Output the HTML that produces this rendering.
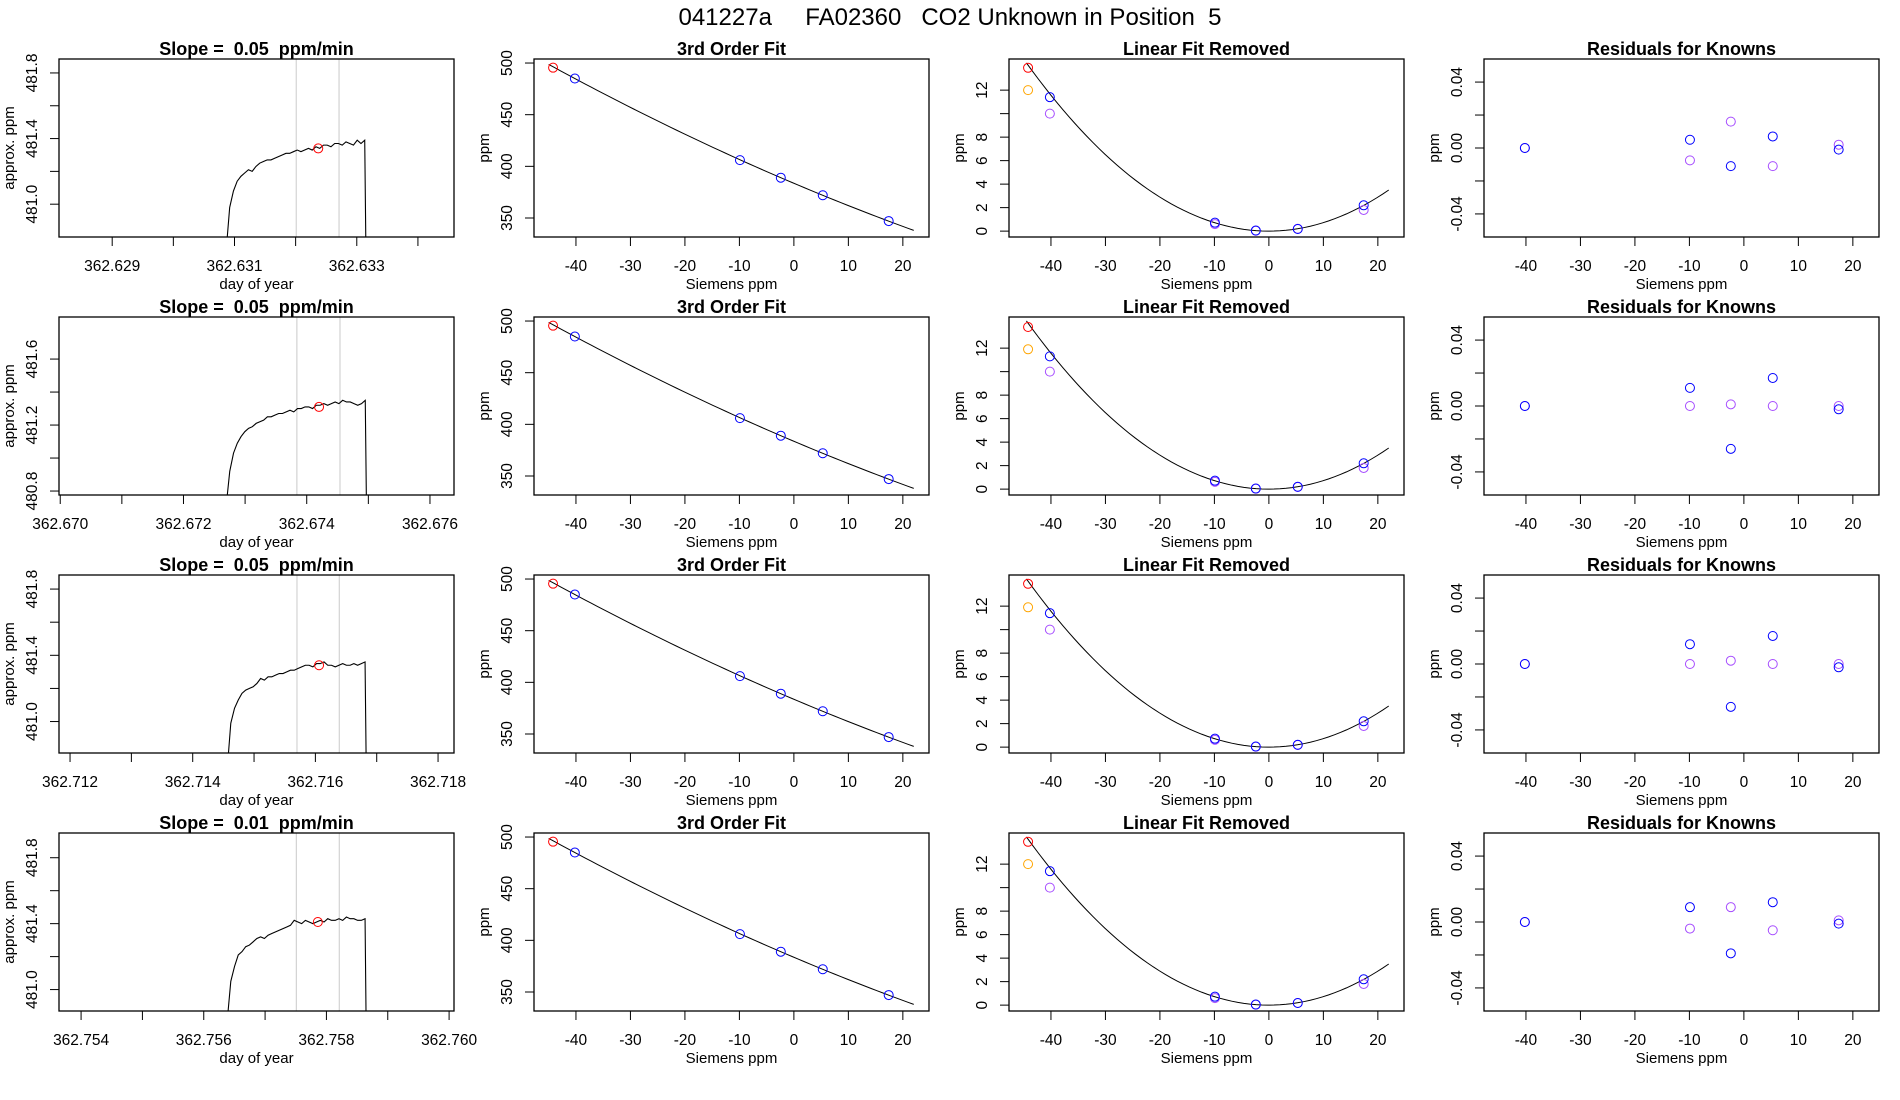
<!DOCTYPE html>
<html><head><meta charset="utf-8"><title>CO2 Unknown in Position 5</title>
<style>
html,body{margin:0;padding:0;background:#fff;}
svg{display:block;font-family:"Liberation Sans",sans-serif;}
text{white-space:pre;}
</style></head>
<body>
<svg id="chart" width="1900" height="1100" viewBox="0 0 1900 1100" xmlns="http://www.w3.org/2000/svg">
<rect x="0" y="0" width="1900" height="1100" fill="#fff"/>
<text x="950" y="25" font-size="24" text-anchor="middle" xml:space="preserve">041227a     FA02360   CO2 Unknown in Position  5</text>
</svg>
<script>
// ---- data ----
const slopeLabels = ["0.05", "0.05", "0.05", "0.01"];
const timeMin = [362.62813, 362.66998, 362.71182, 362.75364];
const timeMax = [362.63459, 362.67639, 362.71826, 362.76008];
const labelParity = [1, 0, 0, 0];
const traceStart = [362.63086, 362.67269, 362.71456, 362.75638];
const traceEnd = [362.63313, 362.67495, 362.71681, 362.75863];
const markTime = [362.63237, 362.67420, 362.71606, 362.75786];
const greyLine1 = [362.63201, 362.67384, 362.71570, 362.75751];
const greyLine2 = [362.63271, 362.67454, 362.71639, 362.75821];
const ppmMin = [480.80, 480.776, 480.81, 480.87];
const ppmMax = [481.885, 481.855, 481.885, 481.95];
const ppmTicks = [[481.0,481.2,481.4,481.6,481.8],[480.8,481.0,481.2,481.4,481.6],[481.0,481.2,481.4,481.6,481.8],[481.0,481.2,481.4,481.6,481.8]];
const ppmTickLabels = [["481.0","","481.4","","481.8"],["480.8","","481.2","","481.6"],["481.0","","481.4","","481.8"],["481.0","","481.4","","481.8"]];
const traceRow1 = [480.70,480.98,481.08,481.14,481.17,481.19,481.21,481.20,481.23,481.25,481.26,481.27,481.27,481.28,481.29,481.30,481.31,481.31,481.32,481.33,481.32,481.33,481.34,481.33,481.35,481.34,481.36,481.36,481.35,481.37,481.37,481.36,481.38,481.37,481.36,481.39,481.37,481.39,480.60];
const traceRow2 = [480.70,480.92,481.03,481.09,481.13,481.16,481.18,481.19,481.21,481.22,481.23,481.25,481.25,481.26,481.27,481.27,481.28,481.29,481.28,481.30,481.30,481.31,481.31,481.30,481.32,481.32,481.33,481.32,481.33,481.34,481.33,481.35,481.34,481.34,481.33,481.32,481.33,481.35,480.60];
const traceRow3 = [480.70,480.99,481.08,481.13,481.17,481.19,481.20,481.21,481.23,481.26,481.25,481.27,481.27,481.28,481.29,481.29,481.30,481.31,481.31,481.32,481.33,481.34,481.34,481.33,481.35,481.35,481.36,481.34,481.34,481.33,481.34,481.35,481.34,481.34,481.35,481.34,481.35,481.36,480.60];
const traceRow4 = [480.80,481.05,481.14,481.21,481.23,481.26,481.27,481.29,481.31,481.32,481.31,481.33,481.34,481.35,481.36,481.37,481.38,481.39,481.42,481.41,481.40,481.42,481.41,481.40,481.41,481.42,481.41,481.43,481.42,481.42,481.43,481.42,481.44,481.43,481.43,481.42,481.42,481.43,480.60];
const traces = [traceRow1, traceRow2, traceRow3, traceRow4];
const markPpm = [481.34, 481.31, 481.34, 481.41];

const siemensKnown = [-40.2, -9.9, -2.4, 5.3, 17.4];
const siemensUnknown = -44.2;
const ppmKnown = [485, 406, 389, 372, 347];
const ppmUnknown = 495.5;
const fitCoef = [383.6, -2.232, 0.00723];
const fitRange = [-45, 22];
const sieTicks = [-40, -30, -20, -10, 0, 10, 20];
const fitTicks = [350, 400, 450, 500];

const residBlueRows = [[11.4,0.72,0.05,0.18,2.2],[11.3,0.72,0.05,0.20,2.2],[11.4,0.72,0.05,0.20,2.2],[11.4,0.72,0.05,0.18,2.2]];
const residPurpleRows = [[10.0,0.60,0.03,0.20,1.8],[10.0,0.62,0.04,0.18,1.8],[10.0,0.62,0.04,0.18,1.8],[10.0,0.60,0.04,0.18,1.8]];
const linRedRow = [13.9, 13.8, 13.9, 13.9];
const linOrangeRow = [12.0, 11.9, 11.9, 12.0];
const linTicks = [0, 2, 4, 6, 8, 10, 12];
const linTickLabels = ["0","2","4","6","8","","12"];

const knownBlueRows = [[0.0,0.005,-0.011,0.007,-0.001],[0.0,0.011,-0.026,0.017,-0.002],[0.0,0.012,-0.026,0.017,-0.002],[0.0,0.009,-0.019,0.012,-0.001]];
const knownPurpleRows = [[0.0,-0.0075,0.016,-0.011,0.002],[0.0,0.0,0.001,0.0,0.0],[0.0,0.0,0.002,0.0,0.0],[0.0,-0.004,0.009,-0.005,0.001]];
const resTicks = [-0.04, -0.02, 0.0, 0.02, 0.04];
const resTickLabels = ["-0.04","","0.00","","0.04"];

// ---- layout ----
const NS = "http://www.w3.org/2000/svg";
const svg = document.getElementById("chart");
const rowTop = [59, 317, 575, 833];
const panelLeft = [59, 534, 1009, 1484];
const PW = 395, PH = 178;
const SIE_MIN = -47.7, SIE_MAX = 24.8;
const RED = "#ff0000", BLUE = "#0000ff", PURPLE = "#a64dff", ORANGE = "#ffa500";
let clipId = 0;

function el(tag, attrs, parent) {
  const e = document.createElementNS(NS, tag);
  for (const k in attrs) e.setAttribute(k, attrs[k]);
  (parent || svg).appendChild(e);
  return e;
}
function scale(d0, d1, r0, r1) { return v => r0 + (v - d0) / (d1 - d0) * (r1 - r0); }

function frame(g, x0, y0, title, xlab, ylab) {
  const t = el("text", {x: x0 + PW / 2, y: y0 - 4, "font-size": 18, "font-weight": "bold", "text-anchor": "middle"}, g);
  t.setAttributeNS("http://www.w3.org/XML/1998/namespace", "xml:space", "preserve");
  t.textContent = title;
  
  
  const xl = el("text", {x: x0 + PW / 2, y: y0 + PH + 52, "font-size": 15, "text-anchor": "middle"}, g);
  xl.textContent = xlab;
  
  
  const yx = x0 - 45, yy = y0 + PH / 2;
  const yl = el("text", {x: yx, y: yy, "font-size": 15, "text-anchor": "middle", transform: `rotate(-90 ${yx} ${yy})`}, g);
  yl.textContent = ylab;
  
  
}
function box(g, x0, y0) {
  const b = el("rect", {x: x0, y: y0, width: PW, height: PH, fill: "none", stroke: "#000", "stroke-width": 1.3}, g);
  
  
}
function xTicks(g, x0, y0, ticks, labels, sx) {
  ticks.forEach((v, i) => {
    const px = sx(v);
    const tk = el("line", {x1: px, x2: px, y1: y0 + PH, y2: y0 + PH + 9, stroke: "#000", "stroke-width": 1}, g);
    
    
    if (labels[i]) {
      const t = el("text", {x: px, y: y0 + PH + 34, "font-size": 15.5, "text-anchor": "middle"}, g);
      t.textContent = labels[i];
      
      
    }
  });
}
function yTicks(g, x0, y0, ticks, labels, sy) {
  ticks.forEach((v, i) => {
    const py = sy(v);
    const tk = el("line", {x1: x0 - 9, x2: x0, y1: py, y2: py, stroke: "#000", "stroke-width": 1}, g);
    
    
    if (labels[i]) {
      const tx = x0 - 22;
      const t = el("text", {x: tx, y: py, "font-size": 15.5, "text-anchor": "middle", transform: `rotate(-90 ${tx} ${py})`}, g);
      t.textContent = labels[i];
      
      
    }
  });
}
function clip(g, x0, y0) {
  const id = "clip" + (clipId++);
  const cp = el("clipPath", {id: id}, g);
  el("rect", {x: x0, y: y0, width: PW, height: PH}, cp);
  return "url(#" + id + ")";
}
function circle(g, cx, cy, color, name) {
  const c = el("circle", {cx: cx, cy: cy, r: 4.5, fill: "none", stroke: color, "stroke-width": 1}, g);
  
  
}

for (let r = 0; r < 4; r++) {
  const y0 = rowTop[r];
  // ---- panel 1: trace ----
  {
    const x0 = panelLeft[0];
    const g = el("g", {});
    
    
    const sx = scale(timeMin[r], timeMax[r], x0, x0 + PW);
    const sy = scale(ppmMin[r], ppmMax[r], y0 + PH, y0);
    frame(g, x0, y0, "Slope =  " + slopeLabels[r] + "  ppm/min", "day of year", "approx. ppm");
    const cp = clip(g, x0, y0);
    [greyLine1[r], greyLine2[r]].forEach(t => {
      const l = el("line", {x1: sx(t), x2: sx(t), y1: y0, y2: y0 + PH, stroke: "#d3d3d3", "stroke-width": 1.2}, g);
      
      
    });
    const tr = traces[r], n = tr.length;
    const pts = [[sx(timeMin[r]), sy(tr[0])]];
    tr.forEach((v, i) => {
      let t = traceStart[r] + (traceEnd[r] - traceStart[r]) * i / (n - 2);
      if (i === n - 1) t = traceEnd[r] + (traceEnd[r] - traceStart[r]) * 0.01;
      pts.push([sx(t), sy(v)]);
    });
    pts.push([sx(timeMax[r]), sy(tr[n - 1])]);
    const p = el("polyline", {points: pts.map(q => q.join(",")).join(" "), fill: "none", stroke: "#000", "stroke-width": 1.1, "clip-path": cp}, g);
    
    
    circle(g, sx(markTime[r]), sy(markPpm[r]), RED, 'mean-point');
    const ticks = [], labels = [];
    for (let k = Math.ceil(timeMin[r] * 1000); k <= Math.floor(timeMax[r] * 1000); k++) {
      ticks.push(k / 1000);
      labels.push(k % 2 === labelParity[r] ? (k / 1000).toFixed(3) : "");
    }
    xTicks(g, x0, y0, ticks, labels, sx);
    yTicks(g, x0, y0, ppmTicks[r], ppmTickLabels[r], sy);
    box(g, x0, y0);
  }
  // ---- panel 2: 3rd order fit ----
  {
    const x0 = panelLeft[1];
    const g = el("g", {});
    
    
    const sx = scale(SIE_MIN, SIE_MAX, x0, x0 + PW);
    const sy = scale(331.6, 503.9, y0 + PH, y0);
    frame(g, x0, y0, "3rd Order Fit", "Siemens ppm", "ppm");
    const pts = [];
    for (let i = 0; i <= 60; i++) {
      const x = fitRange[0] + (fitRange[1] - fitRange[0]) * i / 60;
      pts.push(sx(x) + "," + sy(fitCoef[0] + fitCoef[1] * x + fitCoef[2] * x * x));
    }
    const p = el("polyline", {points: pts.join(" "), fill: "none", stroke: "#000", "stroke-width": 1}, g);
    
    
    circle(g, sx(siemensUnknown), sy(ppmUnknown), RED, 'unknown-point');
    siemensKnown.forEach((s, i) => circle(g, sx(s), sy(ppmKnown[i]), BLUE, 'known-point'));
    xTicks(g, x0, y0, sieTicks, sieTicks.map(String), sx);
    yTicks(g, x0, y0, fitTicks, fitTicks.map(String), sy);
    box(g, x0, y0);
  }
  // ---- panel 3: linear fit removed ----
  {
    const x0 = panelLeft[2];
    const g = el("g", {});
    
    
    const sx = scale(SIE_MIN, SIE_MAX, x0, x0 + PW);
    const sy = scale(-0.5, 14.65, y0 + PH, y0);
    frame(g, x0, y0, "Linear Fit Removed", "Siemens ppm", "ppm");
    const pts = [];
    for (let i = 0; i <= 60; i++) {
      const x = -44.5 + (fitRange[1] + 44.5) * i / 60;
      pts.push(sx(x) + "," + sy(fitCoef[2] * x * x));
    }
    const p = el("polyline", {points: pts.join(" "), fill: "none", stroke: "#000", "stroke-width": 1}, g);
    
    
    circle(g, sx(siemensUnknown), sy(linRedRow[r]), RED, 'unknown-point');
    circle(g, sx(siemensUnknown), sy(linOrangeRow[r]), ORANGE, 'unknown-alt-point');
    siemensKnown.forEach((s, i) => circle(g, sx(s), sy(residPurpleRows[r][i]), PURPLE, 'known-alt-point'));
    siemensKnown.forEach((s, i) => circle(g, sx(s), sy(residBlueRows[r][i]), BLUE, 'known-point'));
    xTicks(g, x0, y0, sieTicks, sieTicks.map(String), sx);
    yTicks(g, x0, y0, linTicks, linTickLabels, sy);
    box(g, x0, y0);
  }
  // ---- panel 4: residuals ----
  {
    const x0 = panelLeft[3];
    const g = el("g", {});
    
    
    const sx = scale(SIE_MIN, SIE_MAX, x0, x0 + PW);
    const sy = scale(-0.054, 0.054, y0 + PH, y0);
    frame(g, x0, y0, "Residuals for Knowns", "Siemens ppm", "ppm");
    siemensKnown.forEach((s, i) => circle(g, sx(s), sy(knownPurpleRows[r][i]), PURPLE, 'residual-alt-point'));
    siemensKnown.forEach((s, i) => circle(g, sx(s), sy(knownBlueRows[r][i]), BLUE, 'residual-point'));
    xTicks(g, x0, y0, sieTicks, sieTicks.map(String), sx);
    yTicks(g, x0, y0, resTicks, resTickLabels, sy);
    box(g, x0, y0);
  }
}
</script>
</body></html>
